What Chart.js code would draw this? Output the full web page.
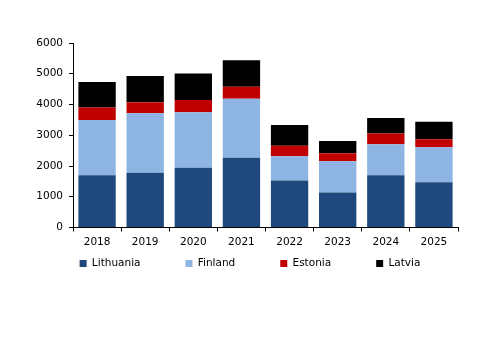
<!DOCTYPE html>
<html>
<head>
<meta charset="utf-8">
<script src="https://cdn.jsdelivr.net/npm/chart.js@4/dist/chart.umd.min.js"></script>
<style>
  html, body { margin: 0; padding: 0; background: #fff; }
</style>
</head>
<body>
<canvas id="chart" width="500" height="353"></canvas>
<script>
// values
const years = ['2018', '2019', '2020', '2021', '2022', '2023', '2024', '2025'];
const lithuania = [1700, 1780, 1940, 2270, 1530, 1140, 1700, 1470];
const finland = [1800, 1935, 1805, 1920, 790, 1015, 1010, 1140];
const estonia = [400, 355, 400, 390, 335, 260, 345, 260];
const latvia = [830, 855, 865, 855, 680, 400, 510, 565];
const yMax = 6000;
const yStep = 1000;

const font = { family: '"DejaVu Sans", sans-serif', size: 10.5 };
const legendPad = 45;

// move the legend row up under the axis labels and centre it on the canvas
const legendPlacer = {
    id: 'legendPlacer',
    afterLayout(chart) {
        const l = chart.legend;
        if (!l) return;
        const top = chart.chartArea.bottom + 36 - legendPad - font.size / 2;
        l.top = top;
        l.bottom = top + l.height;
        l.left = 0;
        l.right = chart.width;
        l.width = chart.width;
    }
};

const ctx = document.getElementById('chart');
new Chart(ctx, {
    type: 'bar',
    data: {
        labels: years,
        datasets: [
            { label: 'Lithuania', data: lithuania, backgroundColor: '#1F497D' },
            { label: 'Finland', data: finland, backgroundColor: '#8DB4E2' },
            { label: 'Estonia', data: estonia, backgroundColor: '#C00000' },
            { label: 'Latvia', data: latvia, backgroundColor: '#000000' }
        ]
    },
    options: {
        responsive: false,
        animation: false,
        datasets: {
            bar: { barPercentage: 0.776, categoryPercentage: 1 }
        },
        layout: {
            padding: { left: 0, right: 42, top: 43, bottom: 35 }
        },
        scales: {
            x: {
                stacked: true,
                grid: { drawOnChartArea: false, drawTicks: true, tickLength: 4, color: '#000' },
                border: { display: true, color: '#000', width: 1 },
                ticks: { color: '#000', font: font, padding: 4 },
                afterFit: (scale) => { scale.height = 25; }
            },
            y: {
                stacked: true,
                min: 0,
                max: yMax,
                grid: { drawOnChartArea: false, drawTicks: true, tickLength: 4, color: '#000' },
                border: { display: true, color: '#000', width: 1 },
                ticks: {
                    stepSize: yStep,
                    color: '#000',
                    font: font,
                    padding: 6,
                    callback: (v) => String(v)
                },
                afterFit: (scale) => { scale.width = 73; }
            }
        },
        plugins: {
            legend: {
                position: 'bottom',
                labels: {
                    boxWidth: 7,
                    boxHeight: 7,
                    padding: legendPad,
                    color: '#000',
                    font: font
                }
            },
            tooltip: { enabled: false }
        }
    },
    plugins: [legendPlacer]
});
</script>
</body>
</html>
